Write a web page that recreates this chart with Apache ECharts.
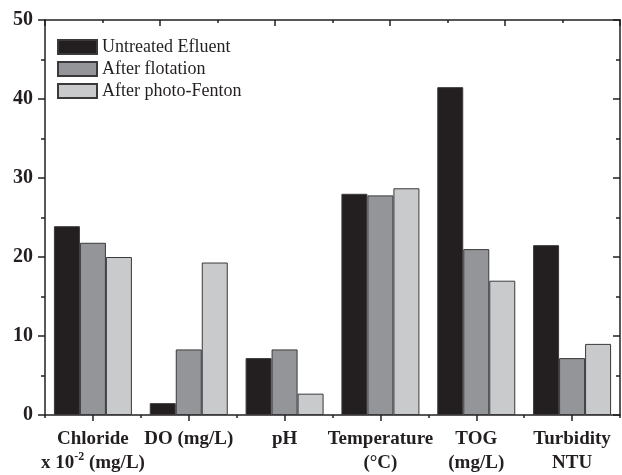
<!DOCTYPE html>
<html><head><meta charset="utf-8">
<script src="https://cdn.jsdelivr.net/npm/echarts@6/dist/echarts.min.js"></script>
<style>html,body{margin:0;padding:0;background:#fff}#c{width:622px;height:475px}</style>
</head><body><div id="c"></div>
<script>
const categories = ['Chloride', 'DO (mg/L)', 'pH', 'Temperature', 'TOG', 'Turbidity'];
const xLabels = ['Chloride\nx 10{sup|-2} (mg/L)', 'DO (mg/L)', 'pH', 'Temperature\n(°C)', 'TOG\n(mg/L)', 'Turbidity\nNTU'];
const untreated = [23.9, 1.5, 7.2, 28.0, 41.5, 21.5];
const flotation = [21.8, 8.3, 8.3, 27.8, 21.0, 7.2];
const photoFenton = [20.0, 19.3, 2.7, 28.7, 17.0, 9.0];
const seriesNames = ['Untreated Efluent', 'After flotation', 'After photo-Fenton'];
const colors = ['#231f20', '#939598', '#c9cacc'];

const serif = '"Liberation Serif","Times New Roman",serif';
const ink = '#231f20';
const chart = echarts.init(document.getElementById('c'));
const lineStyle = {color: ink, width: 1.5};
chart.setOption({
  animation: false,
  grid: {left: 45, right: 2, top: 20, bottom: 57},
  legend: {
    orient: 'vertical', left: 52, top: 33, itemWidth: 39, itemHeight: 14, itemGap: 4,
    icon: 'rect',
    data: seriesNames,
    textStyle: {fontFamily: serif, fontSize: 18, color: ink}
  },
  xAxis: [
    {type: 'category', data: categories, position: 'bottom',
     axisLine: {lineStyle: lineStyle},
     axisTick: {show: true, length: 3, lineStyle: lineStyle},
     axisLabel: {formatter: (v, i) => xLabels[i], interval: 0, margin: 12,
       fontFamily: serif, fontWeight: 'bold', fontSize: 19, color: ink, lineHeight: 24,
       rich: {sup: {fontFamily: serif, fontWeight: 'bold', fontSize: 12, color: ink, verticalAlign: 'top', lineHeight: 14}}}},
    {type: 'category', data: categories, position: 'bottom',
     axisLine: {show: false},
     axisTick: {show: true, alignWithLabel: true, length: 6, lineStyle: lineStyle},
     axisLabel: {show: false}},
    {type: 'value', min: 0, max: 10, interval: 2, position: 'top',
     axisLine: {show: true, lineStyle: lineStyle},
     axisTick: {show: true, inside: true, length: 6, lineStyle: lineStyle},
     minorTick: {show: true, splitNumber: 2, length: 3, lineStyle: lineStyle},
     axisLabel: {show: false}, splitLine: {show: false}}
  ],
  yAxis: [
    {type: 'value', min: 0, max: 50, interval: 10, position: 'left',
     axisLine: {show: true, lineStyle: lineStyle},
     axisTick: {show: true, length: 7, lineStyle: lineStyle},
     minorTick: {show: true, splitNumber: 2, length: 4, lineStyle: lineStyle},
     splitLine: {show: false},
     axisLabel: {fontFamily: serif, fontWeight: 'bold', fontSize: 20, color: ink, margin: 12}},
    {type: 'value', min: 0, max: 50, interval: 10, position: 'right',
     axisLine: {show: true, lineStyle: lineStyle},
     axisTick: {show: true, inside: true, length: 7, lineStyle: lineStyle},
     minorTick: {show: true, splitNumber: 2, length: 4, lineStyle: lineStyle},
     splitLine: {show: false}, axisLabel: {show: false}}
  ],
  series: [untreated, flotation, photoFenton].map((d, k) => ({
    name: seriesNames[k], type: 'bar', data: d, xAxisIndex: 0, yAxisIndex: 0,
    barWidth: 26, barGap: '0%',
    itemStyle: {color: colors[k], borderColor: '#3a3a3c', borderWidth: 1}
  }))
});
</script></body></html>
